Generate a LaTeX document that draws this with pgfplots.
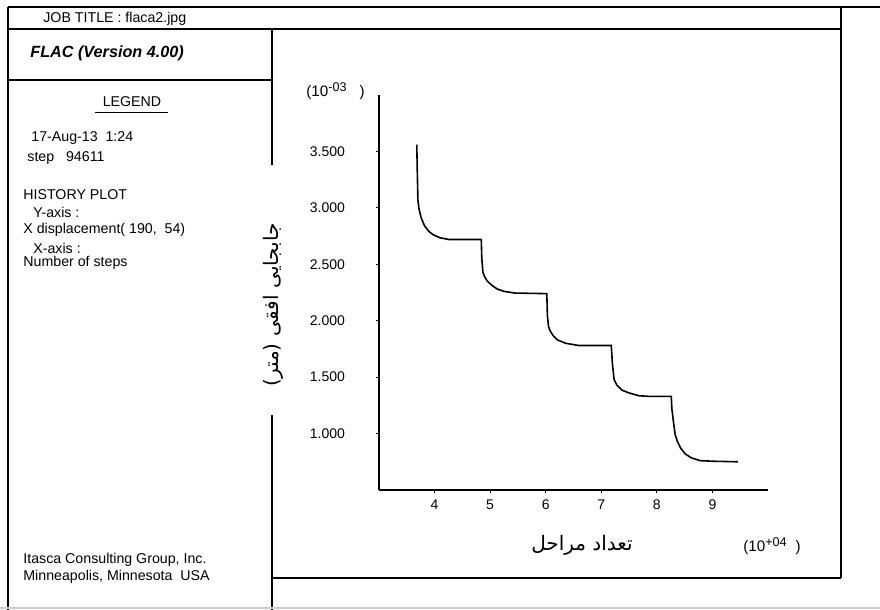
\documentclass[border=0pt]{standalone}
\usepackage{fontspec}
\setmainfont{Liberation Sans}
\newfontfamily\arabicfont[Script=Arabic]{DejaVu Sans}
\TeXXeTstate=1
\usepackage{pgfplots}
\pgfplotsset{compat=1.18}
\newcommand{\expsup}[1]{\raisebox{0.55ex}{\fontsize{6.3}{7}\selectfont #1}}
\begin{document}
\begin{tikzpicture}
\begin{scope}[x=0.5pt,y=-0.5pt]
\path[use as bounding box] (0,0) rectangle (880,610);
\begin{scope}[line width=0.7pt]
\draw (8,7) -- (880,7);
\draw (8,7) -- (8,610);
\draw (8,29) -- (841,29);
\draw (841,7) -- (841,578);
\draw (272,29) -- (272,165);
\draw (272,415) -- (272,610);
\draw (8,80) -- (272,80);
\draw (272,578) -- (841,578);
\end{scope}
\draw[gray!40,line width=0.6pt] (0,608) -- (880,608);
\begin{scope}[every node/.style={font=\fontsize{7.1}{8.4}\selectfont,inner sep=0pt}]
\node[anchor=west] at (43,19) {JOB TITLE : flaca2.jpg};
\node[anchor=west] at (30,53) {\fontsize{8.1}{9.5}\selectfont\bfseries\itshape FLAC (Version 4.00)};
\node at (132,102) {LEGEND};
\node[anchor=west] at (31,138) {17-Aug-13\ \ 1:24};
\node[anchor=west] at (27,158) {step\ \ \ 94611};
\node[anchor=west] at (23,195) {HISTORY PLOT};
\node[anchor=west] at (33,212) {Y-axis :};
\node[anchor=west] at (23,230) {X displacement( 190,\ \ 54)};
\node[anchor=west] at (33,248) {X-axis :};
\node[anchor=west] at (23,263) {Number of steps};
\node[anchor=west] at (23,560) {Itasca Consulting Group, Inc.};
\node[anchor=west] at (23,577) {Minneapolis, Minnesota\ \ USA};
\node[anchor=west,font=\fontsize{7.6}{9}\selectfont] at (306,91) {(10\expsup{-03}\hspace{6.5pt})};
\node[anchor=west,font=\fontsize{7.6}{9}\selectfont] at (743,546) {(10\expsup{+04}\hspace{4.5pt})};
\end{scope}
\draw[line width=0.5pt] (95,113) -- (168,113);
\node[font=\fontsize{10}{12}\selectfont,inner sep=0pt] at (582,545) {\arabicfont\beginR تعداد مراحل\endR};
\node[font=\fontsize{10}{12}\selectfont,inner sep=0pt,rotate=90] at (273,305) {\arabicfont\beginR جابجایی افقی (متر)\endR};
\end{scope}
\begin{axis}[
  at={(189.5pt,-245pt)}, anchor=south west,
  scale only axis, width=194.5pt, height=197.5pt,
  axis lines*=left, axis line style={-,line width=0.6pt},
  xmin=3, xmax=10, ymin=0.5, ymax=4.0,
  xtick={4,5,6,7,8,9},
  ytick={1,1.5,2,2.5,3,3.5},
  tick align=outside, major tick length=1.5pt,
  tick style={black,line width=0.5pt},
  tick label style={font=\fontsize{7}{8}\selectfont},
  /pgf/number format/assume math mode=true,
  yticklabel style={xshift=-12pt,/pgf/number format/fixed,/pgf/number format/fixed zerofill,/pgf/number format/precision=3},
  xticklabel style={/pgf/number format/fixed,/pgf/number format/precision=0},
  clip=false,
]
\addplot[black,line width=0.8pt] coordinates {
(3.68,3.56) (3.69,3.30) (3.70,3.07) (3.72,2.99) (3.76,2.91) (3.82,2.84)
(3.90,2.79) (3.98,2.76) (4.10,2.735) (4.25,2.72) (4.84,2.72)
(4.85,2.55) (4.87,2.43) (4.90,2.39) (4.95,2.35) (5.04,2.31) (5.13,2.28)
(5.25,2.26) (5.45,2.245) (6.02,2.24)
(6.03,2.05) (6.05,1.95) (6.08,1.91) (6.13,1.87) (6.21,1.83) (6.36,1.80)
(6.60,1.78) (7.18,1.78)
(7.20,1.62) (7.23,1.48) (7.28,1.43) (7.37,1.385) (7.50,1.36) (7.68,1.335)
(7.85,1.33) (8.26,1.33)
(8.27,1.22) (8.30,1.10) (8.33,0.99) (8.37,0.93) (8.43,0.87) (8.51,0.82)
(8.62,0.785) (8.78,0.76) (9.00,0.755) (9.46,0.75)
};
\end{axis}
\end{tikzpicture}
\end{document}
